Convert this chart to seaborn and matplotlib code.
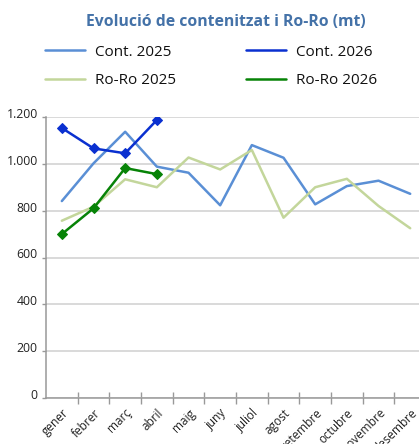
import numpy as np
import pandas as pd
import matplotlib
matplotlib.use("Agg")
import matplotlib.pyplot as plt
import seaborn as sns
from matplotlib.ticker import FuncFormatter, FixedLocator
from matplotlib.transforms import ScaledTranslation

months = ["gener", "febrer", "març", "abril", "maig", "juny", "juliol",
          "agost", "setembre", "octubre", "novembre", "desembre"]
cont_2025 = [841, 1002, 1137, 988, 962, 823, 1080, 1026, 827, 905, 928, 872]
cont_2026 = [1153, 1066, 1045, 1187]
roro_2025 = [757, 817, 934, 900, 1027, 976, 1059, 770, 900, 936, 820, 725]
roro_2026 = [700, 810, 982, 956]
yticks = [0, 200, 400, 600, 800, 1000, 1200]
title = "Evolució de contenitzat i Ro-Ro (mt)"

sns.set_theme(style="white")
plt.rcParams["font.family"] = ["Open Sans", "DejaVu Sans"]

fig = plt.figure(figsize=(4.19, 4.44), dpi=100)
W, H = 419, 444
left_px, right_px = 46, 46 + 12 * 31.67
top_px, bot_px = 117, 398
ax = fig.add_axes([left_px / W, 1 - bot_px / H, (right_px - left_px) / W, (bot_px - top_px) / H])

series = [
    ("Cont. 2025", cont_2025, "#5A8FD5", None),
    ("Cont. 2026", cont_2026, "#0A30D0", "D"),
    ("Ro-Ro 2025", roro_2025, "#C3D69B", None),
    ("Ro-Ro 2026", roro_2026, "#078307", "D"),
]
order = [0, 2, 1, 3]
handles = {}
for i in order:
    name, vals, col, mk = series[i]
    df = pd.DataFrame({"x": np.arange(len(vals)), "y": vals})
    sns.lineplot(data=df, x="x", y="y", ax=ax, color=col, linewidth=1.8,
                 marker=mk, markersize=5, markeredgecolor=col, label=name, legend=False)
    handles[name] = ax.lines[-1]

ax.set_xlim(-0.5, 11.5)
ax.set_ylim(0, 1200)
ax.set_yticks(yticks)
ax.yaxis.set_major_formatter(FuncFormatter(lambda v, p: f"{int(v):,}".replace(",", ".")))
ax.set_xticks(np.arange(12))
ax.set_xticklabels(months, rotation=45, ha="right", rotation_mode="anchor")
ax.xaxis.set_minor_locator(FixedLocator(np.arange(0.5, 11.5, 1)))
ax.tick_params(axis="x", which="major", length=0, pad=6, labelsize=8.5, labelcolor="#222222")
ax.tick_params(axis="x", which="minor", length=8, direction="inout", color="#999999", width=1, bottom=True)
ax.tick_params(axis="y", which="major", length=3, direction="out", color="#999999", width=1,
               left=True, labelsize=8.8, labelcolor="#222222", pad=3)
for lbl in ax.get_yticklabels():
    lbl.set_transform(lbl.get_transform() + ScaledTranslation(0, 3 / 72, fig.dpi_scale_trans))
ax.grid(axis="y", color="#D3D3D3", linewidth=1.2)
ax.set_axisbelow(True)
for s in ["top", "right"]:
    ax.spines[s].set_visible(False)
for s in ["left", "bottom"]:
    ax.spines[s].set_color("#999999")
    ax.spines[s].set_linewidth(1.1)
ax.set_xlabel("")
ax.set_ylabel("")

fig.text(226 / W, 1 - 22 / H, title, ha="center", va="center", fontsize=11.3,
         fontweight="bold", color="#4472A8")

names = ["Cont. 2025", "Ro-Ro 2025", "Cont. 2026", "Ro-Ro 2026"]
leg = fig.legend([handles[n] for n in names], names, ncol=2, frameon=False,
                 loc="center left", bbox_to_anchor=(45 / W, 1 - 66.5 / H),
                 borderpad=0, borderaxespad=0,
                 handlelength=2.6, handletextpad=0.65, columnspacing=4.6,
                 labelspacing=0.9, fontsize=11)
for h in leg.legend_handles:
    h.set_marker("")
for t in leg.get_texts():
    t.set_color("#111111")

fig.savefig("out.png", dpi=100)
